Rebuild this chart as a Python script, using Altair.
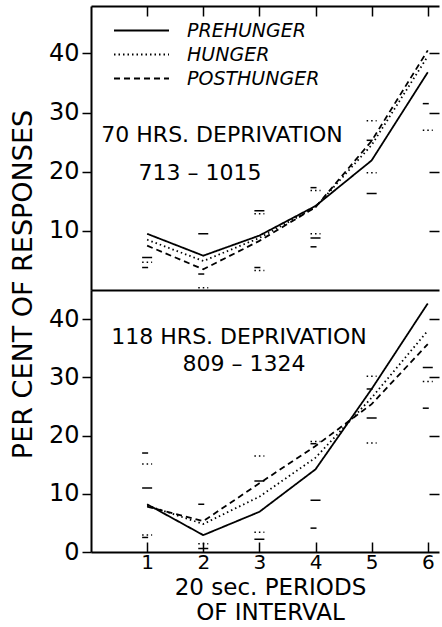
import altair as alt
import pandas as pd

FONT = "DejaVu Sans"

periods = [1, 2, 3, 4, 5, 6]
series_names = ["PREHUNGER", "HUNGER", "POSTHUNGER"]

# 70 hrs deprivation (upper panel) - mean curves
top_prehunger = [9.5, 5.8, 9.2, 14.2, 21.9, 36.8]
top_hunger = [8.5, 4.9, 8.8, 14.0, 24.5, 39.5]
top_posthunger = [7.5, 3.5, 8.3, 14.0, 25.2, 40.5]

# 118 hrs deprivation (lower panel) - mean curves
bottom_prehunger = [8.2, 2.9, 6.9, 14.2, 28.0, 42.7]
bottom_hunger = [8.0, 4.8, 9.5, 16.2, 26.5, 38.0]
bottom_posthunger = [7.8, 5.3, 11.8, 18.2, 25.4, 35.7]

# range markers (individual extremes), upper panel
top_mark_period = [1, 1, 1, 2, 2, 2, 3, 3, 3, 3, 4, 4, 4, 4, 4, 5, 5, 5, 5, 6, 6]
top_mark_value = [5.5, 4.7, 3.8, 9.5, 2.7, 0.4, 13.4, 12.9, 3.8, 3.3,
                  17.3, 16.8, 9.5, 8.8, 7.3, 28.6, 25.3, 19.8, 16.3, 31.5, 27.0]
top_mark_series = ["PREHUNGER", "HUNGER", "POSTHUNGER",
                   "PREHUNGER", "POSTHUNGER", "HUNGER",
                   "PREHUNGER", "HUNGER", "POSTHUNGER", "HUNGER",
                   "POSTHUNGER", "HUNGER", "HUNGER", "PREHUNGER", "POSTHUNGER",
                   "HUNGER", "POSTHUNGER", "HUNGER", "PREHUNGER",
                   "POSTHUNGER", "HUNGER"]

# range markers, lower panel
bottom_mark_period = [1, 1, 1, 1, 1, 2, 2, 2, 3, 3, 3, 3, 4, 4, 4, 4, 5, 5, 5, 5, 6, 6, 6]
bottom_mark_value = [17.0, 15.1, 11.0, 2.9, 2.5, 8.2, 1.4, 0.6,
                     16.5, 12.2, 3.4, 2.2, 19.0, 18.6, 8.9, 4.1,
                     30.2, 28.0, 23.0, 18.7, 31.7, 29.3, 24.7]
bottom_mark_series = ["POSTHUNGER", "HUNGER", "PREHUNGER", "HUNGER", "POSTHUNGER",
                      "POSTHUNGER", "HUNGER", "PREHUNGER",
                      "HUNGER", "PREHUNGER", "HUNGER", "PREHUNGER",
                      "HUNGER", "POSTHUNGER", "PREHUNGER", "POSTHUNGER",
                      "HUNGER", "POSTHUNGER", "PREHUNGER", "HUNGER",
                      "PREHUNGER", "HUNGER", "POSTHUNGER"]

top_notes = ["70 HRS. DEPRIVATION", "713 \u2013 1015"]
bottom_notes = ["118 HRS. DEPRIVATION", "809 \u2013 1324"]

y_ticks_top = [10, 20, 30, 40]
y_ticks_bottom = [0, 10, 20, 30, 40]


def lines_frame(pre, hun, post):
    rows = []
    for name, vals in zip(series_names, [pre, hun, post]):
        for p, v in zip(periods, vals):
            rows.append({"period": p, "value": v, "series": name})
    return pd.DataFrame(rows)


def marks_frame(per, val, ser):
    return pd.DataFrame({"period": per, "value": val, "series": ser})


dash_scale = alt.Scale(domain=series_names, range=[[1, 0], [1.5, 3], [6, 4]])

W = 348
H_TOP = 284
H_BOT = 262


def make_panel(lines_df, marks_df, notes, note_pos, ymax, h, is_top):
    xs = alt.Scale(domain=[0, 6.2], nice=False, zero=False)
    ys = alt.Scale(domain=[0, ymax], nice=False)
    if is_top:
        x_axis_a = alt.Axis(orient="bottom", offset=-h, domain=True, domainWidth=2,
                            ticks=True, tickSize=10, tickWidth=1.5, labels=False,
                            title=None, grid=False, values=periods)
        y_axis_left = alt.Axis(orient="left", values=y_ticks_top, domain=True, domainWidth=2,
                               ticks=True, tickSize=9, tickWidth=1.5, labelPadding=3,
                               title="PER CENT OF RESPONSES", titleX=-68, titleY=278,
                               titleAngle=-90, titleAlign="center", titleBaseline="middle",
                               titleFontSize=27, titleFontWeight="normal", grid=False)
        legend = alt.Legend(orient="none", legendX=22, legendY=15, title=None,
                            symbolType="stroke", symbolSize=3025, symbolStrokeWidth=1.8,
                            symbolStrokeColor="black", labelFont=FONT, labelFontStyle="italic",
                            labelFontSize=19, labelColor="black", labelOffset=17,
                            rowPadding=4, clipHeight=19, padding=0, direction="vertical")
        y_right_vals = y_ticks_top
    else:
        x_axis_a = alt.Axis(orient="bottom", offset=-10, domain=False, ticks=True,
                            tickSize=10, tickWidth=1.5, labels=True, labelPadding=0,
                            labelFontSize=20, values=periods,
                            title=["20 sec. PERIODS", "OF INTERVAL"], titleX=179, titleY=34,
                            titleAlign="center", titleBaseline="top", titleLineHeight=25,
                            titleFontSize=23, titleFontWeight="normal", grid=False)
        y_axis_left = alt.Axis(orient="left", values=y_ticks_bottom, domain=True, domainWidth=2,
                               ticks=True, tickSize=9, tickWidth=1.5, labelPadding=3,
                               title=None, grid=False)
        legend = None
        y_right_vals = y_ticks_top
    x_axis_b = alt.Axis(orient="top", offset=-h, domain=True, domainWidth=2, ticks=False,
                        labels=False, title=None, grid=False)
    y_axis_right = alt.Axis(orient="right", offset=-10, values=y_right_vals, domain=False,
                            ticks=True, tickSize=10, tickWidth=1.5, labels=False,
                            title=None, grid=False)

    lines = alt.Chart(lines_df).mark_line(color="black", strokeWidth=1.8).encode(
        x=alt.X("period:Q", scale=xs, axis=x_axis_a),
        y=alt.Y("value:Q", scale=ys, axis=y_axis_left),
        strokeDash=alt.StrokeDash("series:N", scale=dash_scale, legend=legend),
    )
    marks = alt.Chart(marks_df).mark_point(shape="stroke", filled=False, size=100,
                                           color="black", strokeWidth=1.5, opacity=1).encode(
        x=alt.X("period:Q", scale=xs, axis=x_axis_b),
        y=alt.Y("value:Q", scale=ys, axis=y_axis_right),
        strokeDash=alt.StrokeDash("series:N", scale=dash_scale, legend=legend),
    )
    layers = [lines, marks]
    for txt, (px, py) in zip(notes, note_pos):
        layers.append(
            alt.Chart(pd.DataFrame({"t": [txt]})).mark_text(
                font=FONT, fontSize=22, color="black", align="center", baseline="middle"
            ).encode(x=alt.value(px), y=alt.value(py), text="t:N")
        )
    return alt.layer(*layers).properties(width=W, height=h)


top = make_panel(lines_frame(top_prehunger, top_hunger, top_posthunger),
                 marks_frame(top_mark_period, top_mark_value, top_mark_series),
                 top_notes, [(131, 129), (109, 167)], 48, H_TOP, True)
bottom = make_panel(lines_frame(bottom_prehunger, bottom_hunger, bottom_posthunger),
                    marks_frame(bottom_mark_period, bottom_mark_value, bottom_mark_series),
                    bottom_notes, [(148, 47), (153, 74)], 45, H_BOT, False)

chart = alt.vconcat(top, bottom, spacing=0, bounds="flush").resolve_scale(
    strokeDash="independent"
).resolve_legend(strokeDash="independent").properties(
    padding={"left": 9, "top": 5, "right": 0, "bottom": 0},
    background="white",
).configure_view(strokeWidth=0).configure_axis(
    labelFont=FONT, titleFont=FONT, labelColor="black", titleColor="black",
    domainColor="black", tickColor="black", labelFontSize=24, grid=False
)

chart.save("out.html", embed_options={"renderer": "svg", "actions": False})
